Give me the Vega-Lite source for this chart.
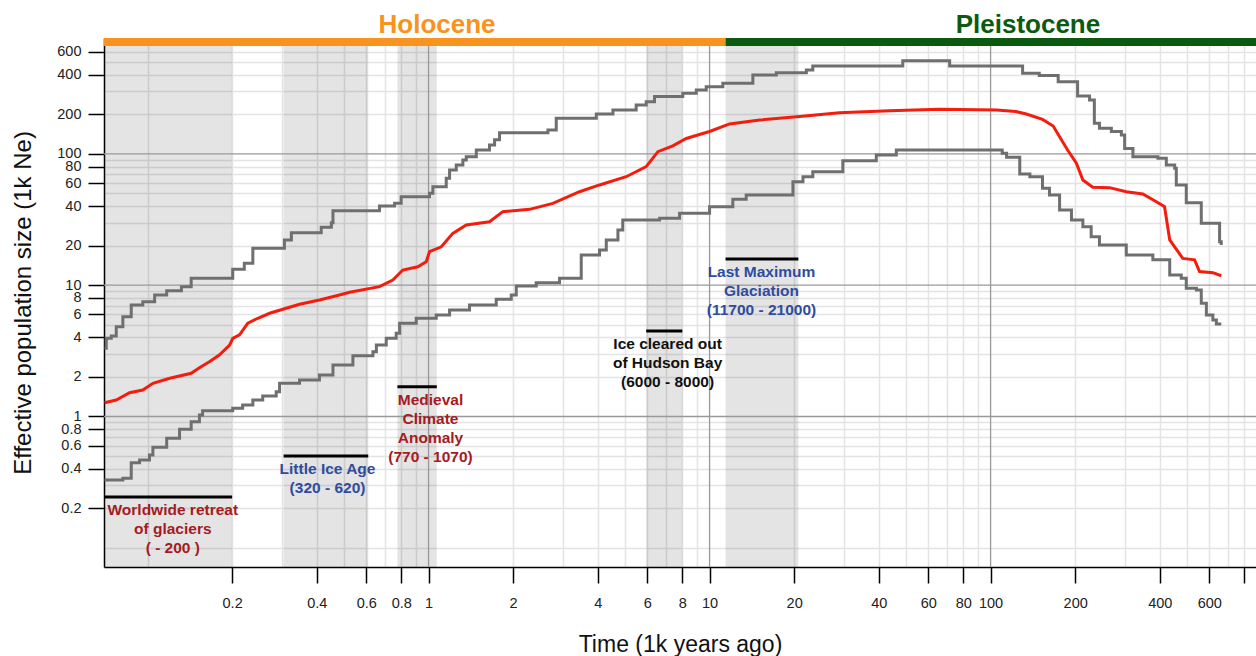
{
  "$schema": "https://vega.github.io/schema/vega-lite/v6.json",
  "width": 1152,
  "height": 529,
  "autosize": {"type": "none"},
  "padding": {"left": 104, "top": 38, "right": 0, "bottom": 89},
  "background": "white",
  "config": {"view": {"stroke": null}, "font": "Liberation Sans"},
  "datasets": {
    "events": [
      {"label": "Worldwide retreat|of glaciers|(  - 200 )", "start": 0.07, "end": 0.2, "level": 0.2438, "tx": 0.123, "kind": "warm"},
      {"label": "Little Ice Age|(320 - 620)", "start": 0.305, "end": 0.61, "level": 0.5, "tx": 0.437, "kind": "cold"},
      {"label": "Medieval|Climate|Anomaly|(770 - 1070)", "start": 0.775, "end": 1.07, "level": 1.686, "tx": 1.016, "kind": "warm"},
      {"label": "Ice cleared out|of Hudson Bay|(6000 - 8000)", "start": 5.95, "end": 8.0, "level": 4.48, "tx": 7.09, "kind": "ice"},
      {"label": "Last Maximum|Glaciation|(11700 - 21000)", "start": 11.4, "end": 20.7, "level": 15.8, "tx": 15.3, "kind": "cold"}
    ],
    "eras": [
      {"era": "Holocene", "start": 0.07, "end": 11.4, "labelAt": 1.072},
      {"era": "Pleistocene", "start": 11.4, "end": 880, "labelAt": 135.8}
    ],
    "decades": [{"v": 1}, {"v": 10}, {"v": 100}],
    "curves": [
      {"series": "upper", "t": 0.0703, "ne": 3.31},
      {"series": "upper", "t": 0.0713, "ne": 3.94},
      {"series": "upper", "t": 0.0743, "ne": 4.10},
      {"series": "upper", "t": 0.0774, "ne": 4.83},
      {"series": "upper", "t": 0.0817, "ne": 5.75},
      {"series": "upper", "t": 0.0875, "ne": 7.06},
      {"series": "upper", "t": 0.0962, "ne": 7.48},
      {"series": "upper", "t": 0.106, "ne": 8.42},
      {"series": "upper", "t": 0.117, "ne": 9.08},
      {"series": "upper", "t": 0.132, "ne": 9.74},
      {"series": "upper", "t": 0.143, "ne": 11.3},
      {"series": "upper", "t": 0.201, "ne": 13.2},
      {"series": "upper", "t": 0.221, "ne": 14.7},
      {"series": "upper", "t": 0.237, "ne": 19.1},
      {"series": "upper", "t": 0.307, "ne": 22.1},
      {"series": "upper", "t": 0.325, "ne": 25.1},
      {"series": "upper", "t": 0.415, "ne": 27.6},
      {"series": "upper", "t": 0.451, "ne": 29.9},
      {"series": "upper", "t": 0.457, "ne": 36.9},
      {"series": "upper", "t": 0.669, "ne": 40.1},
      {"series": "upper", "t": 0.757, "ne": 42.0},
      {"series": "upper", "t": 0.799, "ne": 47.2},
      {"series": "upper", "t": 1.008, "ne": 50.1},
      {"series": "upper", "t": 1.036, "ne": 56.2},
      {"series": "upper", "t": 1.156, "ne": 65.2},
      {"series": "upper", "t": 1.188, "ne": 75.4},
      {"series": "upper", "t": 1.255, "ne": 82.4},
      {"series": "upper", "t": 1.325, "ne": 89.8},
      {"series": "upper", "t": 1.362, "ne": 95.2},
      {"series": "upper", "t": 1.479, "ne": 107},
      {"series": "upper", "t": 1.648, "ne": 117},
      {"series": "upper", "t": 1.718, "ne": 128},
      {"series": "upper", "t": 1.789, "ne": 145},
      {"series": "upper", "t": 2.659, "ne": 152},
      {"series": "upper", "t": 2.847, "ne": 187},
      {"series": "upper", "t": 3.953, "ne": 201},
      {"series": "upper", "t": 4.53, "ne": 216},
      {"series": "upper", "t": 5.48, "ne": 236},
      {"series": "upper", "t": 5.95, "ne": 250},
      {"series": "upper", "t": 6.37, "ne": 273},
      {"series": "upper", "t": 8.03, "ne": 289},
      {"series": "upper", "t": 8.97, "ne": 307},
      {"series": "upper", "t": 9.73, "ne": 325},
      {"series": "upper", "t": 11.15, "ne": 345},
      {"series": "upper", "t": 14.26, "ne": 399},
      {"series": "upper", "t": 17.28, "ne": 415},
      {"series": "upper", "t": 22.1, "ne": 435},
      {"series": "upper", "t": 23.3, "ne": 467},
      {"series": "upper", "t": 48.7, "ne": 513},
      {"series": "upper", "t": 71.5, "ne": 467},
      {"series": "upper", "t": 130, "ne": 411},
      {"series": "upper", "t": 149, "ne": 395},
      {"series": "upper", "t": 174, "ne": 355},
      {"series": "upper", "t": 204, "ne": 276},
      {"series": "upper", "t": 225, "ne": 257},
      {"series": "upper", "t": 234, "ne": 171},
      {"series": "upper", "t": 244, "ne": 157},
      {"series": "upper", "t": 269, "ne": 148},
      {"series": "upper", "t": 292, "ne": 139},
      {"series": "upper", "t": 300, "ne": 110},
      {"series": "upper", "t": 321, "ne": 95.2},
      {"series": "upper", "t": 394, "ne": 92.6},
      {"series": "upper", "t": 422, "ne": 82.4},
      {"series": "upper", "t": 452, "ne": 77.7},
      {"series": "upper", "t": 458, "ne": 58.0},
      {"series": "upper", "t": 497, "ne": 42.5},
      {"series": "upper", "t": 562, "ne": 29.6},
      {"series": "upper", "t": 653, "ne": 21.4},
      {"series": "upper", "t": 662, "ne": 20.2},
      {"series": "median", "t": 0.0703, "ne": 1.274},
      {"series": "median", "t": 0.0774, "ne": 1.336},
      {"series": "median", "t": 0.0863, "ne": 1.518},
      {"series": "median", "t": 0.0962, "ne": 1.591},
      {"series": "median", "t": 0.1045, "ne": 1.79},
      {"series": "median", "t": 0.12, "ne": 1.954},
      {"series": "median", "t": 0.143, "ne": 2.133},
      {"series": "median", "t": 0.153, "ne": 2.353},
      {"series": "median", "t": 0.166, "ne": 2.615},
      {"series": "median", "t": 0.18, "ne": 2.94},
      {"series": "median", "t": 0.196, "ne": 3.5},
      {"series": "median", "t": 0.201, "ne": 3.94},
      {"series": "median", "t": 0.2125, "ne": 4.18},
      {"series": "median", "t": 0.2275, "ne": 5.13},
      {"series": "median", "t": 0.247, "ne": 5.6},
      {"series": "median", "t": 0.272, "ne": 6.11},
      {"series": "median", "t": 0.303, "ne": 6.55},
      {"series": "median", "t": 0.3475, "ne": 7.15},
      {"series": "median", "t": 0.409, "ne": 7.71},
      {"series": "median", "t": 0.482, "ne": 8.42},
      {"series": "median", "t": 0.524, "ne": 8.83},
      {"series": "median", "t": 0.669, "ne": 9.74},
      {"series": "median", "t": 0.746, "ne": 10.95},
      {"series": "median", "t": 0.81, "ne": 13.05},
      {"series": "median", "t": 0.916, "ne": 13.8},
      {"series": "median", "t": 0.981, "ne": 15.1},
      {"series": "median", "t": 1.008, "ne": 18.0},
      {"series": "median", "t": 1.11, "ne": 19.6},
      {"series": "median", "t": 1.22, "ne": 24.8},
      {"series": "median", "t": 1.362, "ne": 28.7},
      {"series": "median", "t": 1.648, "ne": 30.4},
      {"series": "median", "t": 1.838, "ne": 36.3},
      {"series": "median", "t": 2.288, "ne": 37.8},
      {"series": "median", "t": 2.769, "ne": 42.0},
      {"series": "median", "t": 3.446, "ne": 51.5},
      {"series": "median", "t": 4.06, "ne": 58.0},
      {"series": "median", "t": 5.05, "ne": 67.0},
      {"series": "median", "t": 5.95, "ne": 79.9},
      {"series": "median", "t": 6.55, "ne": 104},
      {"series": "median", "t": 7.4, "ne": 115},
      {"series": "median", "t": 8.26, "ne": 131},
      {"series": "median", "t": 10.0, "ne": 148},
      {"series": "median", "t": 11.78, "ne": 169},
      {"series": "median", "t": 15.07, "ne": 181},
      {"series": "median", "t": 20.9, "ne": 193},
      {"series": "median", "t": 29.0, "ne": 206},
      {"series": "median", "t": 43.7, "ne": 213},
      {"series": "median", "t": 65.8, "ne": 219},
      {"series": "median", "t": 105, "ne": 216},
      {"series": "median", "t": 123, "ne": 210},
      {"series": "median", "t": 134, "ne": 201},
      {"series": "median", "t": 153, "ne": 183},
      {"series": "median", "t": 167, "ne": 163},
      {"series": "median", "t": 176, "ne": 135},
      {"series": "median", "t": 188, "ne": 107},
      {"series": "median", "t": 202, "ne": 84.8},
      {"series": "median", "t": 213, "ne": 63.3},
      {"series": "median", "t": 231, "ne": 55.7},
      {"series": "median", "t": 265, "ne": 55.3},
      {"series": "median", "t": 304, "ne": 51.5},
      {"series": "median", "t": 348, "ne": 49.5},
      {"series": "median", "t": 389, "ne": 43.2},
      {"series": "median", "t": 416, "ne": 39.6},
      {"series": "median", "t": 434, "ne": 22.1},
      {"series": "median", "t": 483, "ne": 16.0},
      {"series": "median", "t": 532, "ne": 15.6},
      {"series": "median", "t": 554, "ne": 12.7},
      {"series": "median", "t": 618, "ne": 12.45},
      {"series": "median", "t": 662, "ne": 11.8},
      {"series": "lower", "t": 0.0703, "ne": 0.3285},
      {"series": "lower", "t": 0.0817, "ne": 0.338},
      {"series": "lower", "t": 0.0875, "ne": 0.4446},
      {"series": "lower", "t": 0.0937, "ne": 0.4665},
      {"series": "lower", "t": 0.1016, "ne": 0.509},
      {"series": "lower", "t": 0.1045, "ne": 0.582},
      {"series": "lower", "t": 0.117, "ne": 0.682},
      {"series": "lower", "t": 0.13, "ne": 0.799},
      {"series": "lower", "t": 0.143, "ne": 0.913},
      {"series": "lower", "t": 0.153, "ne": 1.027},
      {"series": "lower", "t": 0.157, "ne": 1.107},
      {"series": "lower", "t": 0.201, "ne": 1.155},
      {"series": "lower", "t": 0.218, "ne": 1.223},
      {"series": "lower", "t": 0.237, "ne": 1.336},
      {"series": "lower", "t": 0.257, "ne": 1.433},
      {"series": "lower", "t": 0.287, "ne": 1.545},
      {"series": "lower", "t": 0.295, "ne": 1.79},
      {"series": "lower", "t": 0.3475, "ne": 1.897},
      {"series": "lower", "t": 0.409, "ne": 2.07},
      {"series": "lower", "t": 0.457, "ne": 2.47},
      {"series": "lower", "t": 0.538, "ne": 2.9},
      {"series": "lower", "t": 0.634, "ne": 3.116},
      {"series": "lower", "t": 0.652, "ne": 3.5},
      {"series": "lower", "t": 0.707, "ne": 3.94},
      {"series": "lower", "t": 0.767, "ne": 4.3},
      {"series": "lower", "t": 0.789, "ne": 5.13},
      {"series": "lower", "t": 0.904, "ne": 5.6},
      {"series": "lower", "t": 1.065, "ne": 5.93},
      {"series": "lower", "t": 1.188, "ne": 6.47},
      {"series": "lower", "t": 1.399, "ne": 7.06},
      {"series": "lower", "t": 1.741, "ne": 7.81},
      {"series": "lower", "t": 1.969, "ne": 8.42},
      {"series": "lower", "t": 2.052, "ne": 9.86},
      {"series": "lower", "t": 2.416, "ne": 10.45},
      {"series": "lower", "t": 2.925, "ne": 11.29},
      {"series": "lower", "t": 3.494, "ne": 17.0},
      {"series": "lower", "t": 4.06, "ne": 18.5},
      {"series": "lower", "t": 4.29, "ne": 22.1},
      {"series": "lower", "t": 4.72, "ne": 26.3},
      {"series": "lower", "t": 4.91, "ne": 31.4},
      {"series": "lower", "t": 6.64, "ne": 32.3},
      {"series": "lower", "t": 7.82, "ne": 35.3},
      {"series": "lower", "t": 10.0, "ne": 39.6},
      {"series": "lower", "t": 12.1, "ne": 45.1},
      {"series": "lower", "t": 13.5, "ne": 48.6},
      {"series": "lower", "t": 19.8, "ne": 61.4},
      {"series": "lower", "t": 21.5, "ne": 67.0},
      {"series": "lower", "t": 23.3, "ne": 73.2},
      {"series": "lower", "t": 29.8, "ne": 88.8},
      {"series": "lower", "t": 39.2, "ne": 98.1},
      {"series": "lower", "t": 46.2, "ne": 107},
      {"series": "lower", "t": 110, "ne": 101},
      {"series": "lower", "t": 114, "ne": 94.2},
      {"series": "lower", "t": 127, "ne": 70.3},
      {"series": "lower", "t": 138, "ne": 67.0},
      {"series": "lower", "t": 153, "ne": 54.7},
      {"series": "lower", "t": 162, "ne": 48.6},
      {"series": "lower", "t": 176, "ne": 37.4},
      {"series": "lower", "t": 194, "ne": 31.4},
      {"series": "lower", "t": 213, "ne": 27.9},
      {"series": "lower", "t": 228, "ne": 23.4},
      {"series": "lower", "t": 244, "ne": 20.2},
      {"series": "lower", "t": 304, "ne": 17.0},
      {"series": "lower", "t": 378, "ne": 15.6},
      {"series": "lower", "t": 434, "ne": 11.96},
      {"series": "lower", "t": 477, "ne": 11.29},
      {"series": "lower", "t": 497, "ne": 9.47},
      {"series": "lower", "t": 540, "ne": 9.19},
      {"series": "lower", "t": 562, "ne": 7.28},
      {"series": "lower", "t": 586, "ne": 5.93},
      {"series": "lower", "t": 618, "ne": 5.43},
      {"series": "lower", "t": 636, "ne": 5.06},
      {"series": "lower", "t": 662, "ne": 5.06}
    ]
  },
  "layer": [
    {
      "data": {"name": "events"},
      "mark": {"type": "rect", "fill": "#000000", "fillOpacity": 0.105},
      "encoding": {
        "x": {"field": "start", "type": "quantitative", "scale": {"type": "log", "domain": [0.07, 880], "nice": false},
          "axis": {"orient": "bottom", "values": [0.1,0.2,0.3,0.4,0.5,0.6,0.7,0.8,0.9,2,3,4,5,6,7,8,9,20,30,40,50,60,70,80,90,200,300,400,500,600,700,800],
            "grid": true, "gridColor": "#e4e4e4", "gridWidth": 1.5, "ticks": false, "labels": false, "domain": false, "title": null}},
        "x2": {"field": "end"}
      }
    },
    {
      "data": {"name": "decades"},
      "mark": {"type": "rule", "color": "#999999", "strokeWidth": 1.3},
      "encoding": {
        "y": {"field": "v", "type": "quantitative", "scale": {"type": "log", "domain": [0.0714, 763], "nice": false},
          "axis": {"orient": "left", "values": [0.1,0.2,0.3,0.4,0.5,0.6,0.7,0.8,0.9,2,3,4,5,6,7,8,9,20,30,40,50,60,70,80,90,200,300,400,500,600,700],
            "grid": true, "gridColor": "#e4e4e4", "gridWidth": 1.5, "ticks": false, "labels": false, "domain": false, "title": null}}
      }
    },
    {
      "data": {"name": "decades"},
      "mark": {"type": "rule", "color": "#999999", "strokeWidth": 1.3},
      "encoding": {
        "x": {"field": "v", "type": "quantitative", "scale": {"type": "log", "domain": [0.07, 880], "nice": false}, "axis": null}
      }
    },
    {
      "data": {"name": "curves"},
      "transform": [{"filter": "datum.series != 'median'"}],
      "mark": {"type": "line", "interpolate": "step-after", "color": "#6f6f6f", "strokeWidth": 3},
      "encoding": {
        "x": {"field": "t", "type": "quantitative", "scale": {"type": "log", "domain": [0.07, 880], "nice": false},
          "axis": {"orient": "bottom", "values": [0.2,0.4,0.6,0.8,1,2,4,6,8,10,20,40,60,80,100,200,400,600,800],
            "labelExpr": "datum.value >= 700 ? '' : format(datum.value, '~g')",
            "grid": false, "domainColor": "#000000", "domainWidth": 1.5, "tickColor": "#000000", "tickWidth": 1.5, "tickSize": 16,
            "labelFontSize": 14.5, "labelColor": "#222222", "labelPadding": 13, "labelOverlap": false, "labelFlush": false, "labelBound": false,
            "title": "Time (1k years ago)", "titleFontSize": 23, "titleFontWeight": "normal", "titleColor": "#111111", "titlePadding": 24}},
        "y": {"field": "ne", "type": "quantitative", "scale": {"type": "log", "domain": [0.0714, 763], "nice": false},
          "axis": {"orient": "left", "values": [0.2,0.4,0.6,0.8,1,2,4,6,8,10,20,40,60,80,100,200,400,600],
            "labelExpr": "format(datum.value, '~g')",
            "grid": false, "domainColor": "#000000", "domainWidth": 1.5, "tickColor": "#000000", "tickWidth": 1.5, "tickSize": 16,
            "labelFontSize": 14.5, "labelColor": "#222222", "labelPadding": 7, "labelOverlap": false, "labelFlush": false, "labelBound": false,
            "title": "Effective population size (1k Ne)", "titleFontSize": 24, "titleFontWeight": "normal", "titleColor": "#111111", "titlePadding": 21}},
        "detail": {"field": "series", "type": "nominal"}
      }
    },
    {
      "data": {"name": "curves"},
      "transform": [{"filter": "datum.series == 'median'"}],
      "mark": {"type": "line", "interpolate": "linear", "color": "#f41c0c", "strokeWidth": 3},
      "encoding": {
        "x": {"field": "t", "type": "quantitative", "scale": {"type": "log", "domain": [0.07, 880], "nice": false}, "axis": null},
        "y": {"field": "ne", "type": "quantitative", "scale": {"type": "log", "domain": [0.0714, 763], "nice": false}, "axis": null}
      }
    },
    {
      "data": {"name": "events"},
      "mark": {"type": "rule", "color": "#000000", "strokeWidth": 3},
      "encoding": {
        "x": {"field": "start", "type": "quantitative", "scale": {"type": "log", "domain": [0.07, 880], "nice": false}, "axis": null},
        "x2": {"field": "end"},
        "y": {"field": "level", "type": "quantitative", "scale": {"type": "log", "domain": [0.0714, 763], "nice": false}, "axis": null}
      }
    },
    {
      "data": {"name": "events"},
      "mark": {"type": "text", "align": "center", "baseline": "top", "dy": 6, "fontSize": 15.5, "fontWeight": "bold", "lineBreak": "|", "lineHeight": 19},
      "encoding": {
        "x": {"field": "tx", "type": "quantitative", "scale": {"type": "log", "domain": [0.07, 880], "nice": false}, "axis": null},
        "y": {"field": "level", "type": "quantitative", "scale": {"type": "log", "domain": [0.0714, 763], "nice": false}, "axis": null},
        "text": {"field": "label", "type": "nominal"},
        "color": {"field": "kind", "type": "nominal", "scale": {"domain": ["warm", "cold", "ice"], "range": ["#a51b1f", "#2f4c9e", "#111111"]}, "legend": null}
      }
    },
    {
      "data": {"name": "eras"},
      "mark": {"type": "rect"},
      "encoding": {
        "x": {"field": "start", "type": "quantitative", "scale": {"type": "log", "domain": [0.07, 880], "nice": false}, "axis": null},
        "x2": {"field": "end"},
        "y": {"datum": 663, "type": "quantitative", "scale": {"type": "log", "domain": [0.0714, 763], "nice": false}, "axis": null},
        "y2": {"datum": 763},
        "color": {"field": "era", "type": "nominal", "scale": {"domain": ["Holocene", "Pleistocene"], "range": ["#f7931e", "#0b5a10"]}, "legend": null}
      }
    },
    {
      "data": {"name": "eras"},
      "mark": {"type": "text", "align": "center", "baseline": "middle", "dy": 2, "fontSize": 26, "fontWeight": "bold"},
      "encoding": {
        "x": {"field": "labelAt", "type": "quantitative", "scale": {"type": "log", "domain": [0.07, 880], "nice": false}, "axis": null},
        "y": {"datum": 1000, "type": "quantitative", "scale": {"type": "log", "domain": [0.0714, 763], "nice": false}, "axis": null},
        "text": {"field": "era", "type": "nominal"},
        "color": {"field": "era", "type": "nominal", "scale": {"domain": ["Holocene", "Pleistocene"], "range": ["#f7931e", "#0b5a10"]}, "legend": null}
      }
    }
  ],
  "resolve": {"axis": {"x": "independent", "y": "independent"}, "scale": {"color": "independent"}}
}
